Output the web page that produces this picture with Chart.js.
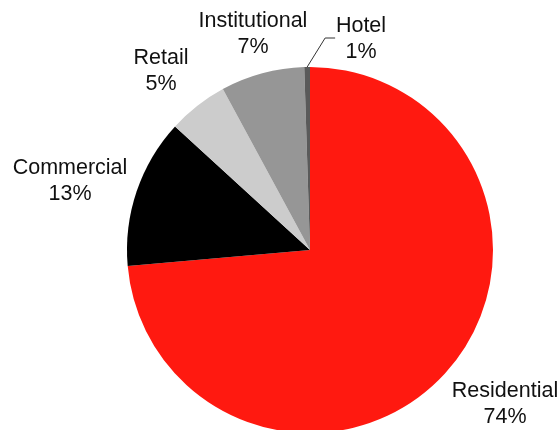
<!DOCTYPE html>
<html>
<head>
<meta charset="utf-8">
<script src="https://cdn.jsdelivr.net/npm/chart.js@4"></script>
<style>
  html, body { margin: 0; padding: 0; background: #fff; }
  #wrap { width: 560px; height: 430px; }
</style>
</head>
<body>
<div id="wrap"><canvas id="pieChart" width="560" height="430"></canvas></div>
<script>
const categories = ['Residential', 'Commercial', 'Retail', 'Institutional', 'Hotel'];
const shares = [73.6, 13.2, 5.3, 7.4, 0.5];
const percentLabels = ['74%', '13%', '5%', '7%', '1%'];
const sliceColors = ['#FF1910', '#000000', '#CCCCCC', '#969696', '#5A5A5A'];

// where each two-line label sits (centre x, baseline of first line)
const labelSpots = [
    { x: 505, y: 397 },
    { x: 70, y: 174 },
    { x: 161, y: 64 },
    { x: 253, y: 27 },
    { x: 361, y: 32, leader: true }
];

const outsideLabels = {
    id: 'outsideLabels',
    afterDatasetsDraw(chart) {
        const ctx = chart.ctx;
        const arcs = chart.getDatasetMeta(0).data;
        ctx.save();
        ctx.fillStyle = '#111';
        ctx.font = '21.5px "Liberation Sans", Arial, sans-serif';
        ctx.textAlign = 'center';
        ctx.textBaseline = 'alphabetic';
        arcs.forEach((arc, i) => {
            const spot = labelSpots[i];
            ctx.fillText(categories[i], spot.x, spot.y);
            ctx.fillText(percentLabels[i], spot.x, spot.y + 26);
            if (spot.leader) {
                const p = arc.getProps(['x', 'y', 'startAngle', 'endAngle', 'outerRadius'], true);
                const mid = (p.startAngle + p.endAngle) / 2;
                const sx = p.x + Math.cos(mid) * p.outerRadius;
                const sy = p.y + Math.sin(mid) * p.outerRadius;
                ctx.strokeStyle = '#333';
                ctx.lineWidth = 1;
                ctx.beginPath();
                ctx.moveTo(sx, sy);
                ctx.lineTo(sx + 18, spot.y + 6);
                ctx.lineTo(sx + 28, spot.y + 6);
                ctx.stroke();
            }
        });
        ctx.restore();
    }
};

const ctx = document.getElementById('pieChart').getContext('2d');
new Chart(ctx, {
    type: 'pie',
    data: {
        labels: categories,
        datasets: [{
            data: shares,
            backgroundColor: sliceColors,
            borderWidth: 0,
            radius: 183
        }]
    },
    options: {
        responsive: false,
        animation: false,
        layout: {
            padding: { left: 127, right: 67, top: 70, bottom: 0 }
        },
        plugins: {
            legend: { display: false },
            tooltip: { enabled: false }
        }
    },
    plugins: [outsideLabels]
});
</script>
</body>
</html>
